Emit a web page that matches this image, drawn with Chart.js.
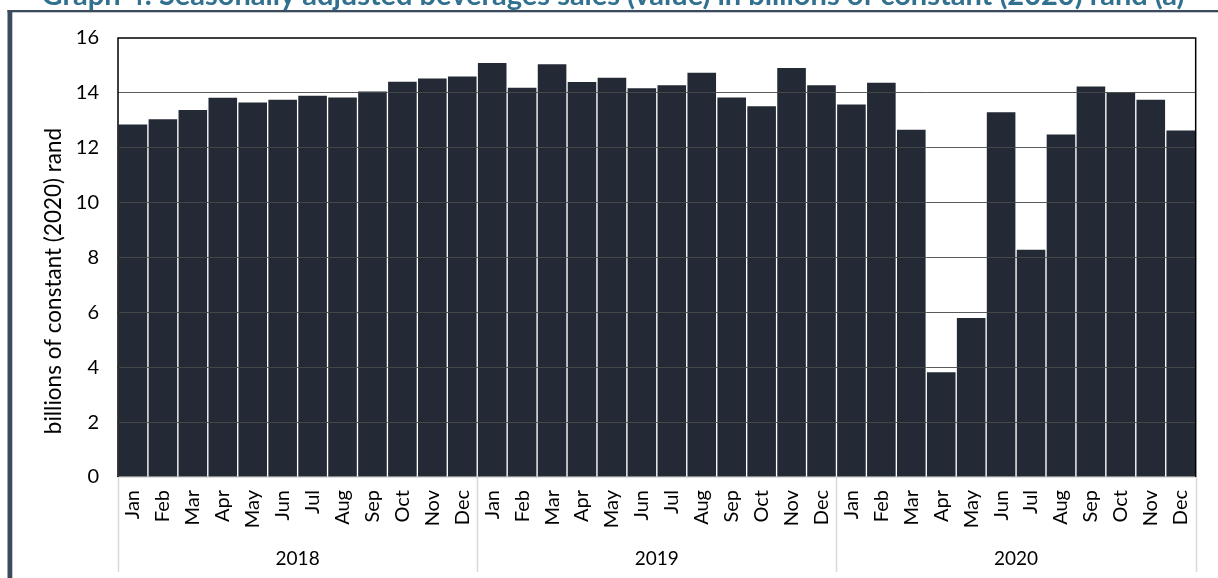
<!DOCTYPE html>
<html>
<head>
<meta charset="utf-8">
<script src="https://cdn.jsdelivr.net/npm/chart.js@4.4.1/dist/chart.umd.min.js"></script>
<style>
  html, body { margin: 0; padding: 0; background: #ffffff; overflow: hidden; }
  #wrap { position: relative; width: 1218px; height: 578px; }
</style>
</head>
<body>
<div id="wrap"><canvas id="c" width="1218" height="578"></canvas></div>
<script>
// Monthly beverage sales, seasonally adjusted, billions of constant (2020) rand
const months = ['Jan', 'Feb', 'Mar', 'Apr', 'May', 'Jun', 'Jul', 'Aug', 'Sep', 'Oct', 'Nov', 'Dec'];
const years = ['2018', '2019', '2020'];
const sales2018 = [12.87, 13.06, 13.40, 13.85, 13.67, 13.77, 13.92, 13.86, 14.07, 14.43, 14.55, 14.62];
const sales2019 = [15.11, 14.21, 15.07, 14.42, 14.58, 14.19, 14.30, 14.76, 13.86, 13.54, 14.93, 14.30];
const sales2020 = [13.60, 14.39, 12.68, 3.84, 5.82, 13.32, 8.31, 12.51, 14.26, 14.04, 13.77, 12.65];
const yMin = 0;
const yMax = 16;
const yStep = 2;
const chartTitle = 'Graph 4: Seasonally adjusted beverages sales (value) in billions of constant (2020) rand (a)';
const yAxisTitle = 'billions of constant (2020) rand';

const labels = years.flatMap(() => months);
const values = sales2018.concat(sales2019, sales2020);

const FONT = 'Lato, "Open Sans", sans-serif';
const BAR = '#232a35';
const SLATE = '#3b4a5d';

// White page, outer panel frame and the cut-off heading above it
const panelPlugin = {
  id: 'panel',
  beforeDraw(chart) {
    const ctx = chart.ctx;
    ctx.save();
    ctx.fillStyle = '#ffffff';
    ctx.fillRect(0, 0, chart.width, chart.height);
    ctx.restore();
  },
  afterDraw(chart) {
    const ctx = chart.ctx;
    ctx.save();
    ctx.fillStyle = SLATE;
    ctx.fillRect(7.5, 10, 4.8, chart.height - 10);
    ctx.fillRect(7.5, 10, chart.width - 7.5, 2.3);
    ctx.fillStyle = '#31708f';
    ctx.font = 'bold 29px ' + FONT;
    ctx.textAlign = 'center';
    ctx.textBaseline = 'alphabetic';
    ctx.fillText(chartTitle, 613, 5);
    ctx.restore();
  }
};

// Black frame on the plot area, the value-axis title and the year group separators
const framePlugin = {
  id: 'frame',
  afterDraw(chart) {
    const {ctx, chartArea: a, scales} = chart;
    const xs = scales.x;
    const x2 = scales.x2;
    ctx.save();
    ctx.strokeStyle = '#000000';
    ctx.lineWidth = 1.5;
    ctx.beginPath();
    ctx.moveTo(a.left, a.bottom);
    ctx.lineTo(a.left, a.top);
    ctx.lineTo(a.right, a.top);
    ctx.lineTo(a.right, a.bottom);
    ctx.stroke();

    const n = labels.length;
    const step = (xs.right - xs.left) / n;
    ctx.strokeStyle = '#d9d9d9';
    ctx.lineWidth = 1.5;
    for (let b = 0; b <= n; b += months.length) {
      const px = Math.round(xs.left + b * step) + 0.5;
      ctx.beginPath();
      ctx.moveTo(px, xs.top);
      ctx.lineTo(px, x2.bottom - 6);
      ctx.stroke();
    }

    ctx.translate(54, 281);
    ctx.rotate(-Math.PI / 2);
    ctx.fillStyle = '#000000';
    ctx.font = '22.5px ' + FONT;
    ctx.textAlign = 'center';
    ctx.textBaseline = 'middle';
    ctx.fillText(yAxisTitle, 0, 0);
    ctx.restore();
  }
};

new Chart(document.getElementById('c'), {
  type: 'bar',
  data: {
    labels: labels,
    datasets: [{
      data: values,
      backgroundColor: BAR,
      borderColor: '#ffffff',
      borderWidth: 1,
      barPercentage: 1,
      categoryPercentage: 1
    }]
  },
  options: {
    responsive: false,
    animation: false,
    devicePixelRatio: 1,
    layout: { padding: { left: 0, top: 38, right: 20, bottom: 0 } },
    plugins: {
      legend: { display: false },
      tooltip: { enabled: false },
      title: { display: false }
    },
    scales: {
      x: {
        type: 'category',
        position: 'bottom',
        weight: 0,
        offset: true,
        grid: { display: false, drawTicks: false },
        border: { display: true, color: '#bfbfbf', width: 1.5 },
        ticks: {
          autoSkip: false,
          maxRotation: 90,
          minRotation: 90,
          padding: 13,
          color: '#000000',
          font: { family: FONT, size: 20 }
        },
        afterFit(scale) { scale.height = 53; }
      },
      x2: {
        type: 'category',
        axis: 'x',
        position: 'bottom',
        weight: 1,
        labels: years,
        offset: true,
        grid: { display: false, drawTicks: false },
        border: { display: false },
        ticks: {
          autoSkip: false,
          maxRotation: 0,
          minRotation: 0,
          padding: 17,
          color: '#000000',
          font: { family: FONT, size: 19 }
        },
        afterFit(scale) { scale.height = 48; }
      },
      y: {
        min: yMin,
        max: yMax,
        ticks: {
          stepSize: yStep,
          padding: 19,
          color: '#000000',
          font: { family: FONT, size: 20 }
        },
        grid: {
          z: 1,
          drawTicks: false,
          lineWidth: 1,
          color: (ctx) => (ctx.tick && (ctx.tick.value === yMin || ctx.tick.value === yMax)) ? 'rgba(0,0,0,0)' : 'rgba(73,73,73,0.9)'
        },
        border: { display: false },
        title: { display: false },
        afterFit(scale) { scale.width = 118; }
      }
    }
  },
  plugins: [panelPlugin, framePlugin]
});
</script>
</body>
</html>
